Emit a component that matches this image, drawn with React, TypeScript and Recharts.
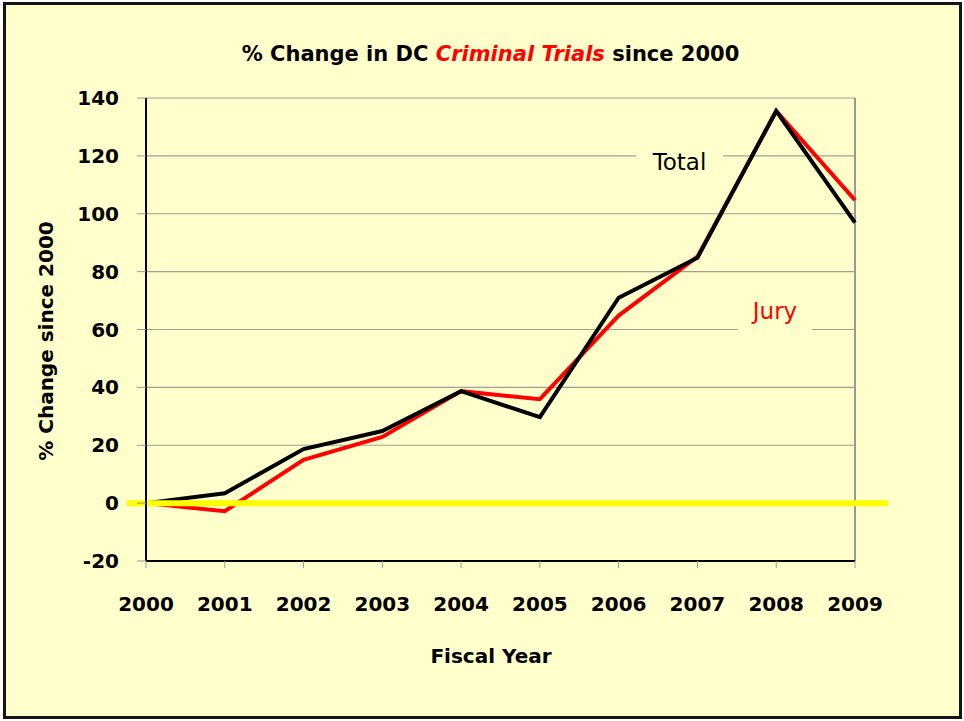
import React from 'react';
import {
  LineChart,
  Line,
  XAxis,
  YAxis,
  CartesianGrid,
  ReferenceLine
} from 'recharts';

// Fiscal years on the x axis
const years = ['2000', '2001', '2002', '2003', '2004', '2005', '2006', '2007', '2008', '2009'];

// % change since 2000
const totalChange = [0, 3.4, 18.7, 24.9, 38.7, 29.7, 71.0, 84.8, 135.5, 96.9];
const juryChange = [0, -2.8, 15.0, 22.9, 38.7, 35.9, 64.8, 85.2, 135.5, 104.7];

const yTicks = [-20, 0, 20, 40, 60, 80, 100, 120, 140];

const data = years.map((year, i) => ({
  year,
  total: totalChange[i],
  jury: juryChange[i],
}));

const FONT = "'Comic Sans MS', 'DejaVu Sans', sans-serif";
const BG = '#FFFFCC';

const ZeroLine = (props: any) => (
  <line
    x1={props.x1 - 19}
    x2={props.x2 + 33}
    y1={props.y1}
    y2={props.y2}
    stroke="#FFFF00"
    strokeWidth={6}
  />
);

export default function App() {
  return (
    <div style={{ position: 'absolute', left: 0, top: 0, width: 964, height: 721, background: '#fff' }}>
      <div
        style={{
          position: 'absolute',
          left: 3,
          top: 2,
          width: 959,
          height: 717,
          boxSizing: 'border-box',
          border: '3px solid #151515',
          background: BG,
        }}
      />
      <LineChart
        width={964}
        height={721}
        data={data}
        margin={{ top: 98, right: 109, bottom: 0, left: 66 }}
        style={{ position: 'absolute', left: 0, top: 0 }}
      >
        <CartesianGrid vertical={false} stroke="#a0a096" strokeWidth={1.2} />
        <XAxis
          dataKey="year"
          height={160}
          axisLine={{ stroke: '#000', strokeWidth: 2 }}
          tickLine={{ stroke: '#999' }}
          tickSize={7}
          tickMargin={29}
          interval={0}
          tick={{ fill: '#000', fontSize: 20, fontWeight: 'bold', fontFamily: FONT }}
        />
        <YAxis
          width={80}
          domain={[-20, 140]}
          ticks={yTicks}
          allowDataOverflow
          axisLine={{ stroke: '#000', strokeWidth: 2 }}
          tickLine={{ stroke: '#999' }}
          tickSize={9}
          tickMargin={18}
          tick={{ fill: '#000', fontSize: 20, fontWeight: 'bold', fontFamily: FONT }}
        />
        <ReferenceLine x="2009" stroke="#999" strokeWidth={2} />
        <Line
          type="linear"
          dataKey="jury"
          stroke="#FF0000"
          strokeWidth={4}
          dot={false}
          isAnimationActive={false}
        />
        <Line
          type="linear"
          dataKey="total"
          stroke="#000"
          strokeWidth={4}
          dot={false}
          isAnimationActive={false}
        />
        <ReferenceLine y={0} shape={ZeroLine} />
      </LineChart>

      {/* title */}
      <div
        style={{
          position: 'absolute',
          left: 0,
          top: 42,
          width: 981,
          textAlign: 'center',
          fontFamily: FONT,
          fontWeight: 'bold',
          fontSize: 21,
          color: '#000',
        }}
      >
        % Change in DC <span style={{ color: '#FF0000', fontStyle: 'italic' }}>Criminal Trials</span> since 2000
      </div>

      {/* axis titles */}
      <div
        style={{
          position: 'absolute',
          left: 491 - 100,
          width: 200,
          top: 644,
          textAlign: 'center',
          fontFamily: FONT,
          fontWeight: 'bold',
          fontSize: 20,
        }}
      >
        Fiscal Year
      </div>
      <div
        style={{
          position: 'absolute',
          left: 46 - 150,
          top: 342 - 13,
          width: 300,
          textAlign: 'center',
          fontFamily: FONT,
          fontWeight: 'bold',
          fontSize: 20,
          transform: 'rotate(-90deg)',
        }}
      >
        % Change since 2000
      </div>

      {/* series labels */}
      <div
        style={{
          position: 'absolute',
          left: 636,
          top: 146,
          width: 87,
          height: 32,
          background: BG,
          textAlign: 'center',
          fontFamily: FONT,
          fontSize: 23,
          color: '#000',
          lineHeight: '32px',
        }}
      >
        Total
      </div>
      <div
        style={{
          position: 'absolute',
          left: 738,
          top: 295,
          width: 74,
          height: 36,
          background: BG,
          textAlign: 'center',
          fontFamily: FONT,
          fontSize: 23,
          color: '#FF0000',
          lineHeight: '32px',
        }}
      >
        Jury
      </div>
    </div>
  );
}
